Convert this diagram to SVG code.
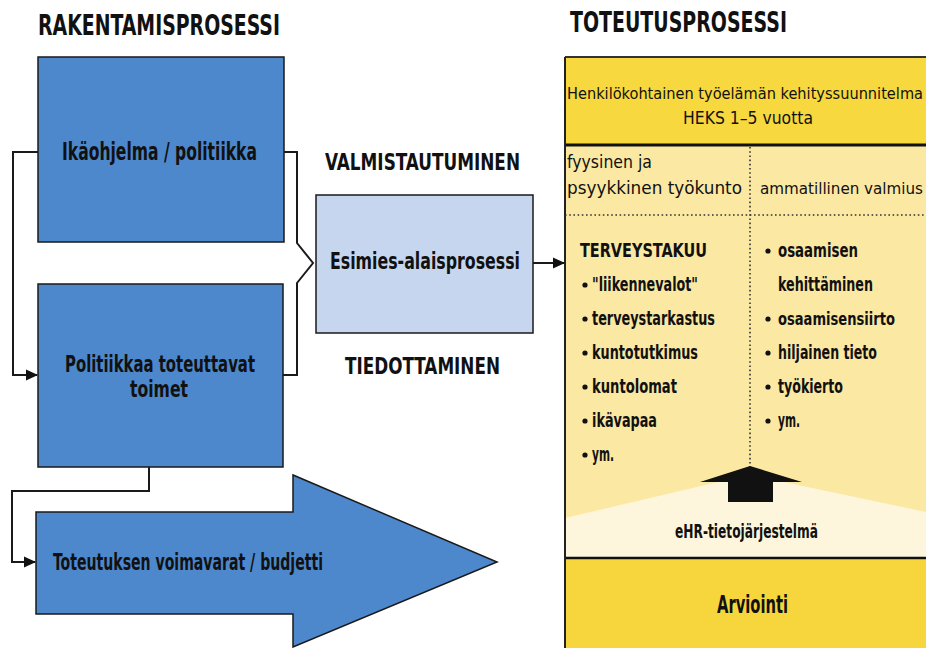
<svg xmlns="http://www.w3.org/2000/svg" width="926" height="648" viewBox="0 0 926 648">
<defs>
<marker id="arr" markerUnits="userSpaceOnUse" markerWidth="12" markerHeight="12" viewBox="0 0 12 12" refX="11" refY="6" orient="auto">
<path d="M0,0.5 L12,6 L0,11.5 Z" fill="#111"/>
</marker>
<style>
text{font-family:"Liberation Sans Narrow","Arial Narrow","DejaVu Sans Condensed","Liberation Sans",sans-serif;fill:#111;font-weight:bold;}
.title{font-size:29px;}
.box{fill:#4d88cc;stroke:#1a1a1a;stroke-width:1.5;}
.lt{font-size:23px;}
.li{font-size:20px;}
.hd{font-size:18px;font-weight:normal;}
.conn{fill:none;stroke:#1a1a1a;stroke-width:2;}
.dot{stroke:#333;stroke-width:1.6;stroke-dasharray:1.6 2.6;fill:none;}
.bul{fill:#111;}
</style>
</defs>
<rect width="926" height="648" fill="#ffffff"/>

<text class="title" x="38" y="35" textLength="242" lengthAdjust="spacingAndGlyphs">RAKENTAMISPROSESSI</text>
<text class="title" x="570" y="32" textLength="217" lengthAdjust="spacingAndGlyphs">TOTEUTUSPROSESSI</text>

<g id="ikaohjelma">
<rect class="box" x="38" y="57" width="246" height="185"/>
<text class="lt" x="62" y="160" style="font-size:24px" textLength="195" lengthAdjust="spacingAndGlyphs">Ikäohjelma / politiikka</text>
</g>

<g id="politiikkaa">
<rect class="box" x="38" y="284" width="245" height="183"/>
<text class="lt" x="65" y="372" textLength="190" lengthAdjust="spacingAndGlyphs">Politiikkaa toteuttavat</text>
<text class="lt" x="130" y="397" textLength="58" lengthAdjust="spacingAndGlyphs">toimet</text>
</g>

<g id="voimavarat">
<path class="box" d="M36,512 L293,512 L293,475 L497,562 L293,647 L293,614 L36,614 Z"/>
<text class="lt" x="53" y="570" textLength="270" lengthAdjust="spacingAndGlyphs">Toteutuksen voimavarat / budjetti</text>
</g>

<g id="valmistautuminen">
<text class="lt" x="325" y="170" textLength="195" lengthAdjust="spacingAndGlyphs">VALMISTAUTUMINEN</text>
</g>
<g id="tiedottaminen">
<text class="lt" x="345" y="374" textLength="155" lengthAdjust="spacingAndGlyphs">TIEDOTTAMINEN</text>
</g>

<g id="esimies">
<rect x="316" y="195" width="217" height="138" fill="#c6d6ef" stroke="#1a1a1a" stroke-width="1.5"/>
<text class="lt" x="330" y="269" textLength="190" lengthAdjust="spacingAndGlyphs">Esimies-alaisprosessi</text>
</g>

<g id="toteutus">
<rect x="565" y="57" width="370" height="88" fill="#f7d83e"/>
<rect x="565" y="145" width="370" height="413" fill="#fbe8a2"/>
<polygon points="565,518 735,478 765,478 926,512 926,557 565,557" fill="#fdf6dc"/>
<rect x="565" y="558" width="370" height="90" fill="#f6d63c"/>
<line x1="565" y1="57" x2="926" y2="57" stroke="#333" stroke-width="2"/>
<line x1="565" y1="145" x2="926" y2="145" stroke="#111" stroke-width="3"/>
<line x1="565" y1="558" x2="926" y2="558" stroke="#111" stroke-width="2.5"/>
<line x1="565" y1="57" x2="565" y2="648" stroke="#222" stroke-width="2"/>
<line class="dot" x1="565" y1="215" x2="926" y2="215"/>
<line class="dot" x1="750" y1="147" x2="750" y2="468"/>

<text class="hd" x="567" y="99" style="font-size:16.1px" textLength="356" lengthAdjust="spacingAndGlyphs">Henkilökohtainen työelämän kehityssuunnitelma</text>
<text class="hd" x="683" y="124" textLength="130" lengthAdjust="spacingAndGlyphs">HEKS 1–5 vuotta</text>
<text class="hd" x="567" y="168" textLength="85" lengthAdjust="spacingAndGlyphs">fyysinen ja</text>
<text class="hd" x="567" y="194" textLength="175" lengthAdjust="spacingAndGlyphs">psyykkinen työkunto</text>
<text class="hd" x="760" y="194" style="font-size:16.7px" textLength="163" lengthAdjust="spacingAndGlyphs">ammatillinen valmius</text>

<text class="li" x="580" y="257" textLength="127" lengthAdjust="spacingAndGlyphs">TERVEYSTAKUU</text>
<circle class="bul" cx="585" cy="285" r="2.6"/>
<text class="li" x="592" y="291" textLength="106" lengthAdjust="spacingAndGlyphs">"liikennevalot"</text>
<circle class="bul" cx="585" cy="319" r="2.6"/>
<text class="li" x="592" y="325" textLength="123" lengthAdjust="spacingAndGlyphs">terveystarkastus</text>
<circle class="bul" cx="585" cy="353" r="2.6"/>
<text class="li" x="592" y="359" textLength="106" lengthAdjust="spacingAndGlyphs">kuntotutkimus</text>
<circle class="bul" cx="585" cy="387" r="2.6"/>
<text class="li" x="592" y="393" textLength="85" lengthAdjust="spacingAndGlyphs">kuntolomat</text>
<circle class="bul" cx="585" cy="421" r="2.6"/>
<text class="li" x="592" y="427" textLength="65" lengthAdjust="spacingAndGlyphs">ikävapaa</text>
<circle class="bul" cx="585" cy="455" r="2.6"/>
<text class="li" x="592" y="461" textLength="22" lengthAdjust="spacingAndGlyphs">ym.</text>

<circle class="bul" cx="768" cy="251" r="2.6"/>
<text class="li" x="778" y="257" textLength="80" lengthAdjust="spacingAndGlyphs">osaamisen</text>
<text class="li" x="778" y="291" textLength="95" lengthAdjust="spacingAndGlyphs">kehittäminen</text>
<circle class="bul" cx="768" cy="319" r="2.6"/>
<text class="li" x="778" y="325" style="font-size:18px" textLength="117" lengthAdjust="spacingAndGlyphs">osaamisensiirto</text>
<circle class="bul" cx="768" cy="353" r="2.6"/>
<text class="li" x="778" y="359" textLength="99" lengthAdjust="spacingAndGlyphs">hiljainen tieto</text>
<circle class="bul" cx="768" cy="387" r="2.6"/>
<text class="li" x="778" y="393" textLength="65" lengthAdjust="spacingAndGlyphs">työkierto</text>
<circle class="bul" cx="768" cy="421" r="2.6"/>
<text class="li" x="778" y="427" textLength="22" lengthAdjust="spacingAndGlyphs">ym.</text>
</g>

<g id="ehr">
<path d="M700,482 L750,466 L802,482 L773,482 L773,502 L728,502 L728,482 Z" fill="#111"/>
<text class="li" x="675" y="538" textLength="143" lengthAdjust="spacingAndGlyphs">eHR-tietojärjestelmä</text>
</g>

<g id="arviointi">
<text class="lt" x="717" y="613" style="font-size:24px" textLength="71" lengthAdjust="spacingAndGlyphs">Arviointi</text>
</g>

<g id="connectors">
<polyline class="conn" points="38,152 13,152 13,375 37,375" marker-end="url(#arr)"/>
<polyline class="conn" points="284,152 297,152 297,243 313,263 297,283 297,375 283,375"/>
<polyline class="conn" points="149,467 149,491 12,491 12,562 35,562" marker-end="url(#arr)"/>
<line class="conn" x1="533" y1="263" x2="564" y2="263" marker-end="url(#arr)"/>
</g>
</svg>
